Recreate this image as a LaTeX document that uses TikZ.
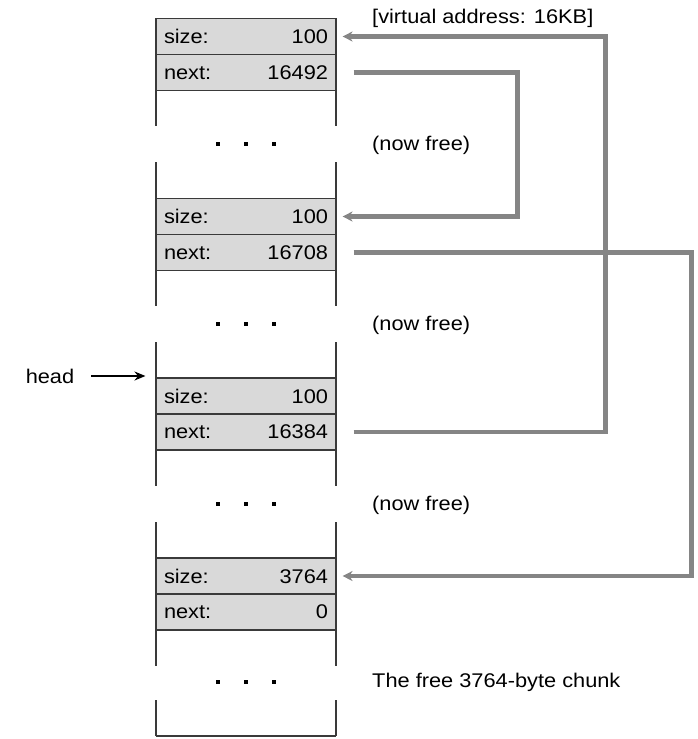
\documentclass[tikz,border=0pt]{standalone}
\usepackage{fontspec}
\setmainfont{Liberation Sans}[FakeStretch=1.1]
\usetikzlibrary{arrows.meta}
\definecolor{cellgray}{HTML}{D9D9D9}
\definecolor{linkgray}{HTML}{858585}
\definecolor{edgegray}{HTML}{3A3A3A}
\begin{document}
\begin{tikzpicture}[
        x=1pt, y=-1pt,
        every node/.style={font=\fontsize{19.8}{23}\selectfont},
        cell/.style={draw=edgegray, line width=1.1pt, fill=cellgray, minimum width=180pt,
            minimum height=36pt, text width=164pt, inner sep=8pt},
        note/.style={anchor=west, inner sep=0pt},
        side/.style={draw=edgegray, line width=1.1pt},
        link/.style={draw=linkgray, line width=4.5pt, -{Stealth[length=10pt,width=10pt]}},
    ]
    \useasboundingbox (0,0) rectangle (697,739);
    % the four headers
    \node[cell](size1) at (246,36.5){size:\hfill 100};
    \node[cell](next1) at (246,72.5){next:\hfill 16492};
    \node[cell](size2) at (246,216.5){size:\hfill 100};
    \node[cell](next2) at (246,252.5){next:\hfill 16708};
    \node[cell](size3) at (246,396){size:\hfill 100};
    \node[cell](next3) at (246,432){next:\hfill 16384};
    \node[cell](size4) at (246,576){size:\hfill 3764};
    \node[cell](next4) at (246,612){next:\hfill 0};
    % sides of the heap
    \foreach \t/\b in {90/198, 270/378, 450/558, 630/736}{
        \draw[side] (156,\t) -- ++(0,36) (336,\t) -- ++(0,36);
        \draw[side] (156,\b) -- ++(0,-36) (336,\b) -- ++(0,-36);
    }
    \draw[side] (156,736) -- (336,736);
    \foreach \y in {144,324,504,682}
        \foreach \x in {218,246,274}
            \fill (\x-2,\y-2) rectangle (\x+2,\y+2);
    % labels
    \node[note](va) at (372,18){[virtual address: 16KB]};
    \node[note](free1) at (372,145){(now free)};
    \node[note](free2) at (372,325){(now free)};
    \node[note](free3) at (372,505){(now free)};
    \node[note](chunk) at (372,682){The free 3764-byte chunk};
    \node[inner sep=0pt](head) at (50,376){head};
    \draw[line width=1.6pt, -{Stealth[length=11pt,width=9pt]}] ([xshift=17]head.east) -- ([xshift=-10]size3.north west |- head);
    % free list links
    \draw[link] ([xshift=17]next1.east) -| ([xshift=181]size2.east) -- ([xshift=6]size2.east);
    \draw[link] ([xshift=17]next3.east) -| ([xshift=269]size1.east) -- ([xshift=6]size1.east);
    \draw[link] ([xshift=17]next2.east) -| ([xshift=355]size4.east) -- ([xshift=6]size4.east);
\end{tikzpicture}
\end{document}
